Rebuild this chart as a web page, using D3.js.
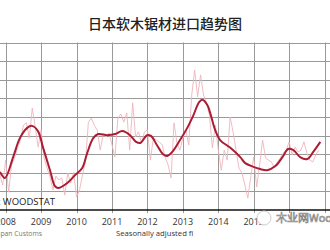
<!DOCTYPE html>
<html>
<head>
<meta charset="utf-8">
<script src="https://cdn.jsdelivr.net/npm/d3@7"></script>
<style>
  html, body { margin: 0; padding: 0; background: #fff; }
  svg { display: block; }
</style>
</head>
<body>
<div id="chart"></div>
<script>
// monthly imports, seasonally adjusted (thousand m3), from Nov 2007
const rawStart = 2007 + 10 / 12
const rawValues = [394, 367, 434, 348, 421, 440, 467, 488, 528, 534, 493, 574,
  523, 469, 515, 440, 413, 389, 354, 391, 381, 386, 340, 399,
  373, 402, 335, 354, 394, 429, 536, 547, 528, 515, 461, 502,
  496, 507, 475, 442, 547, 558, 536, 561, 461, 588, 496, 510,
  480, 510, 515, 434, 493, 488, 483, 475, 442, 421, 386, 534,
  480, 461, 493, 515, 475, 609, 676, 604, 663, 609, 588, 555,
  467, 528, 461, 407, 461, 434, 550, 510, 461, 413, 399, 367,
  332, 389, 442, 362, 421, 488, 440, 434, 429, 413, 429, 440,
  453, 461, 483, 448, 469, 456, 461, 483, 453, 434, 429, 448, 461]

// trend line
const trendYears = [2007.84, 2007.98, 2008.21, 2008.40, 2008.60, 2008.74, 2008.91, 2009.05,
  2009.25, 2009.39, 2009.48, 2009.73, 2009.96, 2010.16, 2010.30, 2010.47, 2010.61, 2010.87,
  2011.09, 2011.29, 2011.51, 2011.68, 2011.80, 2011.99, 2012.10, 2012.27, 2012.44, 2012.56,
  2012.70, 2012.92, 2013.12, 2013.29, 2013.46, 2013.55, 2013.69, 2013.77, 2013.91, 2014.05,
  2014.34, 2014.62, 2014.76, 2014.99, 2015.18, 2015.38, 2015.61, 2015.81, 2015.97, 2016.12,
  2016.31, 2016.51, 2016.68, 2016.88]
const trendValues = [402, 386, 442, 493, 520, 526, 512, 469,
  407, 364, 359, 372, 394, 413, 453, 493, 504, 501,
  504, 512, 501, 483, 480, 501, 499, 474, 450, 445,
  456, 488, 520, 553, 590, 596, 582, 561, 515, 488,
  467, 442, 426, 416, 410, 407, 418, 442, 464, 461,
  442, 437, 456, 483]

const years = [2008, 2009, 2010, 2011, 2012, 2013, 2014, 2015, 2016, 2017]
const yearLabels = ["2008", "2009", "2010", "2011", "2012", "2013", "2014", "2015"]
const yTicks = [300, 350, 400, 450, 500, 550, 600, 650, 700, 750]

const width = 330, height = 250
const plotTop = 42.5, plotBottom = 210

const svg = d3.select("#chart").append("svg")
  .attr("width", width)
  .attr("height", height)

const x = d3.scaleLinear().domain([2008, 2017]).range([5.7, 324.6])
const y = d3.scaleLinear().domain([300, 750]).range([plotBottom, plotTop])

// title
svg.append("text")
  .attr("x", 165)
  .attr("y", 29)
  .attr("text-anchor", "middle")
  .style("font-family", "'Noto Sans CJK SC'")
  .style("font-size", "14px")
  .style("font-weight", "500")
  .style("fill", "#222")
  .text("日本软木锯材进口趋势图")

// grid
const grid = svg.append("g").attr("stroke", "#999").attr("stroke-width", 1)
grid.selectAll(".h").data(yTicks.slice(1)).enter().append("line")
  .attr("x1", 0).attr("x2", width)
  .attr("y1", d => Math.round(y(d)) + 0.5).attr("y2", d => Math.round(y(d)) + 0.5)
grid.selectAll(".v").data(years).enter().append("line")
  .attr("x1", d => Math.round(x(d)) + 0.5).attr("x2", d => Math.round(x(d)) + 0.5)
  .attr("y1", plotTop).attr("y2", plotBottom + 3)

svg.append("defs").append("clipPath").attr("id", "clip")
  .append("rect").attr("x", 0).attr("y", plotTop).attr("width", width).attr("height", plotBottom - plotTop)

const plot = svg.append("g").attr("clip-path", "url(#clip)")

const rawData = rawValues.map((v, i) => [rawStart + i / 12, v])
const trendData = trendYears.map((t, i) => [t, trendValues[i]])

const line = d3.line().x(d => x(d[0])).y(d => y(d[1]))

plot.append("path")
  .datum(rawData)
  .attr("d", line)
  .attr("fill", "none")
  .attr("stroke", "#efb4bc")
  .attr("stroke-width", 0.9)

plot.append("path")
  .datum(trendData)
  .attr("d", line.curve(d3.curveCatmullRom))
  .attr("fill", "none")
  .attr("stroke", "#ab1d33")
  .attr("stroke-width", 2)

// axis line
svg.append("line")
  .attr("x1", 0).attr("x2", width)
  .attr("y1", y(300)).attr("y2", y(300))
  .attr("stroke", "#111")
  .attr("stroke-width", 1.6)

svg.append("g").selectAll("text").data(yearLabels).enter().append("text")
  .attr("x", (d, i) => x(years[i]))
  .attr("y", 224.5)
  .attr("text-anchor", "middle")
  .style("font-family", "'Open Sans'")
  .style("font-size", "9px")
  .style("fill", "#333")
  .text(d => d)

svg.append("text")
  .attr("x", 55).attr("y", 205)
  .attr("text-anchor", "end")
  .style("font-family", "'Open Sans'")
  .style("font-size", "9.5px")
  .style("fill", "#222")
  .text("Copyright WOODSTAT")

svg.append("text")
  .attr("x", 42).attr("y", 236)
  .attr("text-anchor", "end")
  .style("font-family", "'Open Sans'")
  .style("font-size", "6.8px")
  .style("fill", "#777")
  .text("Source: Japan Customs")

svg.append("text")
  .attr("x", 116).attr("y", 235.5)
  .style("font-family", "'Open Sans'")
  .style("font-size", "7.7px")
  .style("fill", "#333")
  .text("Seasonally adjusted fi")

// watermark
svg.append("circle")
  .attr("cx", 264).attr("cy", 218).attr("r", 7)
  .attr("fill", "#fff").attr("stroke", "#ccc").attr("stroke-width", 1)
svg.append("text")
  .attr("x", 276).attr("y", 222)
  .style("font-family", "'Noto Sans CJK SC'")
  .style("font-size", "11px")
  .style("fill", "#fff")
  .style("stroke", "#888")
  .style("stroke-width", 0.7)
  .text("木业网WoodTech")
</script>
</body>
</html>
